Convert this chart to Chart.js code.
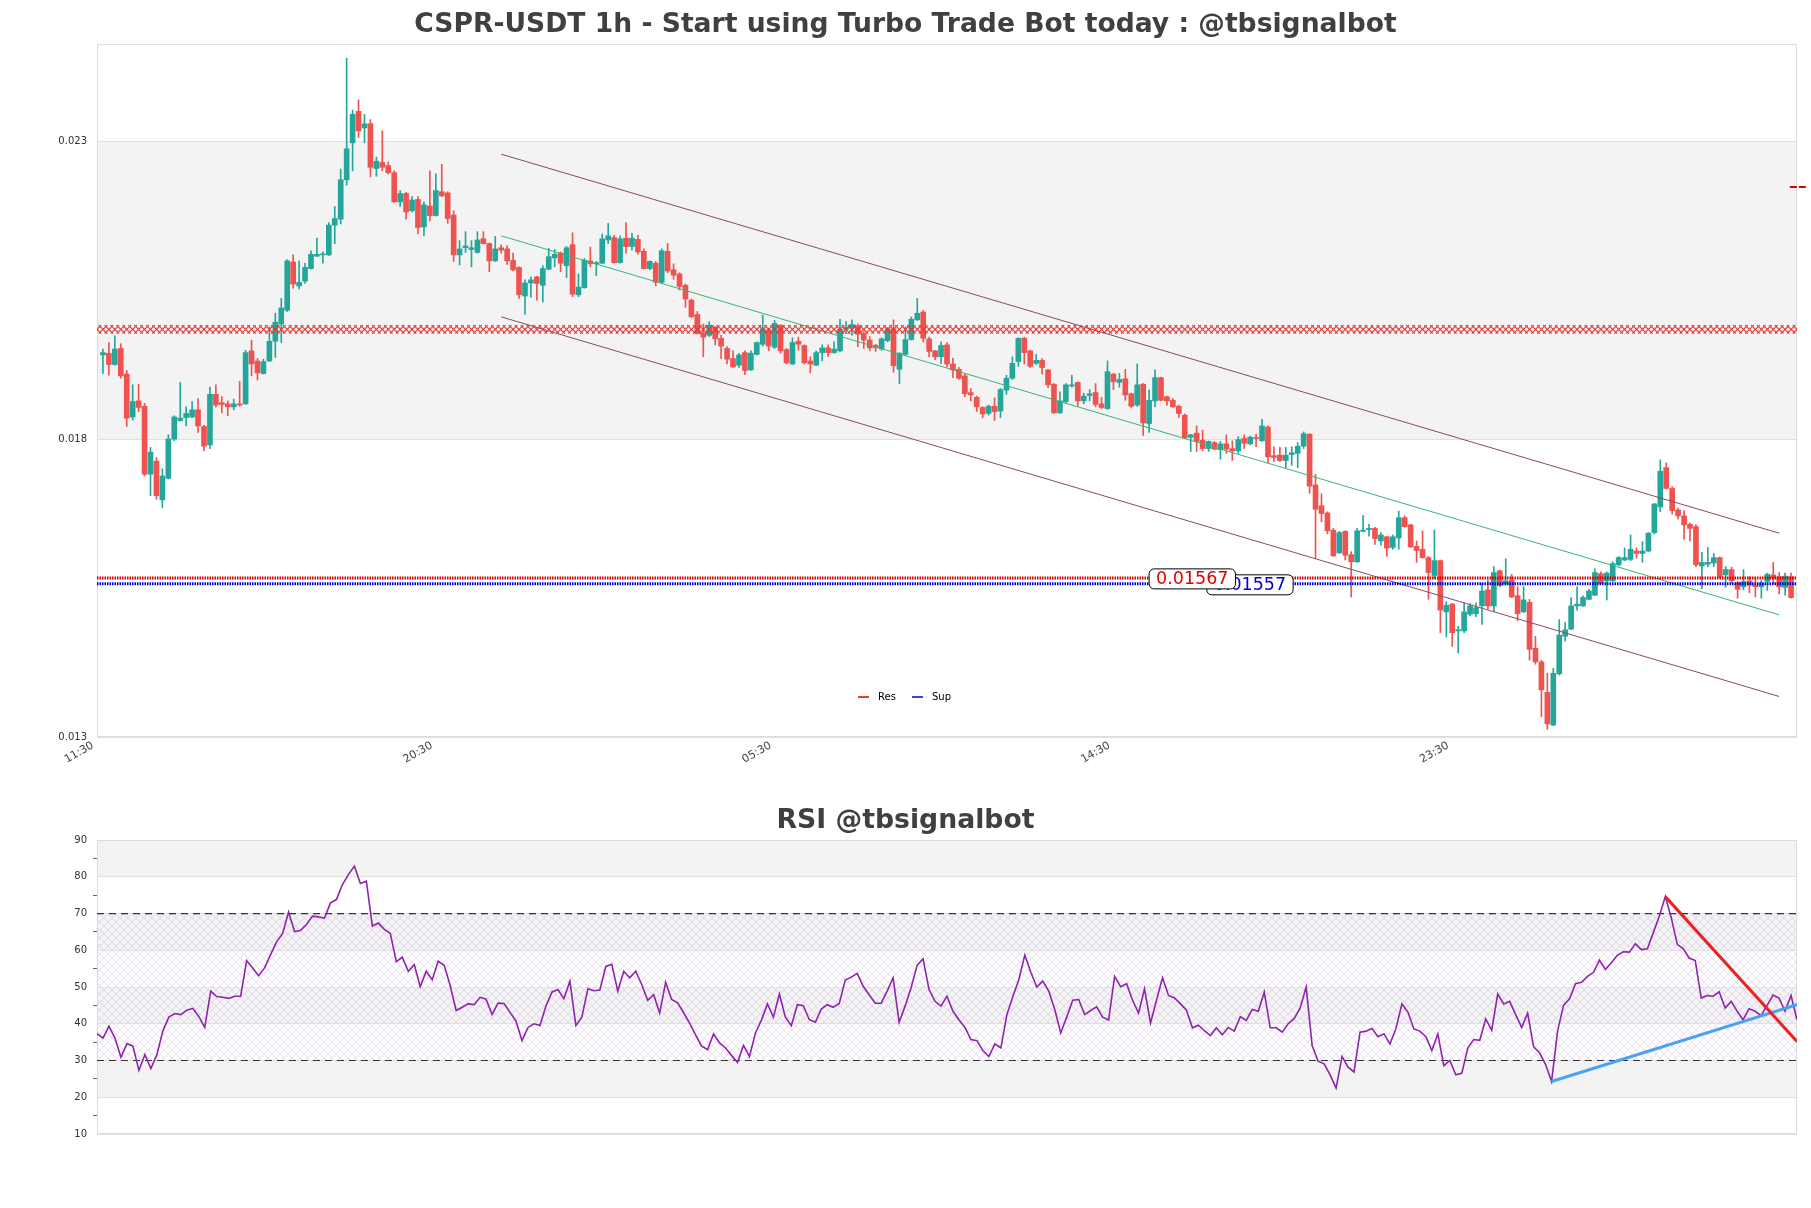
<!DOCTYPE html>
<html lang="en">
<head>
<meta charset="UTF-8">
<title>CSPR-USDT 1h</title>
<script src="https://cdn.jsdelivr.net/npm/chart.js@4.4.1/dist/chart.umd.min.js"></script>
<style>
    html, body { margin: 0; padding: 0; background: #fff; }
    #wrap { position: relative; width: 1811px; height: 1208px; }
    #priceChart { position: absolute; left: 0; top: 0; }
    #rsiChart { position: absolute; left: 0; top: 790px; }
</style>
</head>
<body>
<div id="wrap">
    <canvas id="priceChart" width="1811" height="790"></canvas>
    <canvas id="rsiChart" width="1811" height="418"></canvas>
</div>
<script>
// ---- candles (1..285) ----
const openP = [
0.01941,0.01944,0.01925,0.01952,0.01909,0.01837,0.01864,0.01855,0.01741,0.01763,
0.01698,0.01734,0.01800,0.01831,0.01836,0.01837,0.01849,0.01821,0.01790,0.01875,
0.01861,0.01859,0.01854,0.01859,0.01859,0.01948,0.01931,0.01910,0.01931,0.01964,
0.01993,0.02016,0.02097,0.02057,0.02065,0.02086,0.02107,0.02109,0.02109,0.02159,
0.02169,0.02235,0.02297,0.02350,0.02322,0.02329,0.02254,0.02264,0.02259,0.02247,
0.02198,0.02212,0.02183,0.02202,0.02156,0.02191,0.02175,0.02215,0.02213,0.02176,
0.02109,0.02121,0.02118,0.02113,0.02136,0.02128,0.02099,0.02121,0.02119,0.02100,
0.02088,0.02040,0.02062,0.02072,0.02058,0.02085,0.02104,0.02112,0.02091,0.02126,
0.02042,0.02054,0.02099,0.02094,0.02095,0.02134,0.02138,0.02096,0.02137,0.02123,
0.02135,0.02115,0.02086,0.02095,0.02063,0.02115,0.02084,0.02077,0.02058,0.02033,
0.02009,0.01978,0.01974,0.01988,0.01969,0.01952,0.01935,0.01924,0.01945,0.01916,
0.01942,0.01959,0.01983,0.01954,0.01991,0.01950,0.01926,0.01964,0.01957,0.01931,
0.01924,0.01945,0.01953,0.01945,0.01948,0.01984,0.01986,0.01990,0.01977,0.01966,
0.01957,0.01951,0.01965,0.01985,0.01917,0.01942,0.01967,0.02000,0.02013,0.01968,
0.01948,0.01938,0.01958,0.01926,0.01917,0.01906,0.01878,0.01870,0.01853,0.01843,
0.01855,0.01847,0.01882,0.01902,0.01930,0.01969,0.01948,0.01927,0.01932,0.01916,
0.01892,0.01844,0.01863,0.01889,0.01895,0.01864,0.01873,0.01878,0.01859,0.01851,
0.01909,0.01895,0.01901,0.01876,0.01857,0.01892,0.01826,0.01864,0.01903,0.01871,
0.01865,0.01855,0.01840,0.01803,0.01810,0.01798,0.01784,0.01794,0.01782,0.01792,
0.01784,0.01780,0.01801,0.01792,0.01802,0.01797,0.01820,0.01772,0.01773,0.01764,
0.01774,0.01776,0.01788,0.01808,0.01723,0.01688,0.01676,0.01647,0.01609,0.01645,
0.01606,0.01594,0.01645,0.01648,0.01650,0.01629,0.01636,0.01618,0.01634,0.01668,
0.01656,0.01620,0.01615,0.01601,0.01571,0.01596,0.01510,0.01523,0.01478,0.01478,
0.01506,0.01507,0.01520,0.01547,0.01520,0.01579,0.01557,0.01563,0.01537,0.01510,
0.01526,0.01449,0.01426,0.01375,0.01320,0.01406,0.01469,0.01481,0.01520,0.01520,
0.01531,0.01538,0.01574,0.01562,0.01562,0.01589,0.01597,0.01598,0.01612,0.01608,
0.01612,0.01643,0.01686,0.01752,0.01717,0.01681,0.01671,0.01657,0.01653,0.01587,
0.01590,0.01592,0.01601,0.01572,0.01581,0.01559,0.01552,0.01562,0.01555,0.01552,
0.01561,0.01572,0.01569,0.01551,0.01569
];
const highP = [
0.01951,0.01962,0.01973,0.01960,0.01915,0.01891,0.01892,0.01860,0.01786,0.01769,
0.01750,0.01807,0.01839,0.01895,0.01854,0.01863,0.01868,0.01823,0.01887,0.01891,
0.01871,0.01864,0.01867,0.01897,0.01949,0.01966,0.01935,0.01934,0.01988,0.02011,
0.02036,0.02101,0.02109,0.02099,0.02095,0.02116,0.02137,0.02114,0.02163,0.02190,
0.02253,0.02439,0.02352,0.02369,0.02345,0.02336,0.02273,0.02317,0.02265,0.02250,
0.02217,0.02214,0.02207,0.02207,0.02198,0.02250,0.02245,0.02261,0.02215,0.02183,
0.02133,0.02148,0.02133,0.02148,0.02148,0.02129,0.02140,0.02126,0.02124,0.02112,
0.02089,0.02067,0.02072,0.02073,0.02091,0.02120,0.02118,0.02114,0.02123,0.02146,
0.02077,0.02103,0.02122,0.02098,0.02144,0.02162,0.02142,0.02141,0.02163,0.02145,
0.02142,0.02119,0.02099,0.02098,0.02119,0.02128,0.02094,0.02079,0.02060,0.02035,
0.02014,0.01993,0.01997,0.01989,0.01974,0.01955,0.01948,0.01944,0.01948,0.01948,
0.01963,0.02008,0.01986,0.01999,0.01992,0.01952,0.01970,0.01971,0.01958,0.01938,
0.01948,0.01958,0.01958,0.01963,0.02001,0.01997,0.02000,0.01993,0.01980,0.01972,
0.01959,0.01970,0.01987,0.02000,0.01945,0.01988,0.02005,0.02036,0.02016,0.01971,
0.01949,0.01963,0.01962,0.01936,0.01920,0.01909,0.01885,0.01872,0.01854,0.01857,
0.01869,0.01885,0.01907,0.01938,0.01970,0.01971,0.01949,0.01942,0.01935,0.01917,
0.01893,0.01879,0.01893,0.01907,0.01896,0.01877,0.01883,0.01893,0.01870,0.01931,
0.01910,0.01910,0.01917,0.01877,0.01926,0.01893,0.01882,0.01916,0.01904,0.01872,
0.01868,0.01857,0.01842,0.01808,0.01822,0.01815,0.01797,0.01796,0.01796,0.01807,
0.01797,0.01804,0.01807,0.01805,0.01808,0.01833,0.01822,0.01787,0.01786,0.01786,
0.01787,0.01794,0.01812,0.01809,0.01741,0.01708,0.01678,0.01650,0.01645,0.01646,
0.01611,0.01650,0.01672,0.01657,0.01652,0.01643,0.01637,0.01639,0.01679,0.01671,
0.01657,0.01629,0.01646,0.01603,0.01647,0.01597,0.01527,0.01524,0.01486,0.01525,
0.01524,0.01525,0.01558,0.01563,0.01586,0.01580,0.01599,0.01573,0.01552,0.01552,
0.01531,0.01469,0.01429,0.01407,0.01415,0.01497,0.01492,0.01534,0.01552,0.01537,
0.01548,0.01582,0.01577,0.01577,0.01594,0.01603,0.01617,0.01639,0.01617,0.01628,
0.01643,0.01692,0.01765,0.01760,0.01720,0.01684,0.01680,0.01659,0.01656,0.01610,
0.01618,0.01608,0.01602,0.01586,0.01585,0.01561,0.01581,0.01569,0.01568,0.01563,
0.01575,0.01593,0.01576,0.01575,0.01575
];
const lowP = [
0.01910,0.01907,0.01924,0.01902,0.01821,0.01832,0.01846,0.01738,0.01705,0.01699,
0.01685,0.01733,0.01797,0.01830,0.01822,0.01836,0.01811,0.01780,0.01784,0.01854,
0.01844,0.01839,0.01849,0.01855,0.01858,0.01906,0.01899,0.01909,0.01930,0.01937,
0.01962,0.02014,0.02053,0.02052,0.02061,0.02085,0.02106,0.02095,0.02108,0.02128,
0.02161,0.02226,0.02250,0.02306,0.02297,0.02240,0.02241,0.02250,0.02245,0.02197,
0.02190,0.02169,0.02181,0.02144,0.02141,0.02166,0.02174,0.02207,0.02162,0.02098,
0.02092,0.02113,0.02089,0.02112,0.02127,0.02081,0.02098,0.02112,0.02093,0.02082,
0.02036,0.02009,0.02038,0.02033,0.02030,0.02084,0.02089,0.02081,0.02071,0.02039,
0.02039,0.02053,0.02089,0.02074,0.02094,0.02128,0.02095,0.02095,0.02112,0.02117,
0.02110,0.02085,0.02084,0.02057,0.02061,0.02079,0.02068,0.02050,0.02021,0.02004,
0.01976,0.01938,0.01972,0.01958,0.01935,0.01926,0.01920,0.01920,0.01908,0.01915,
0.01941,0.01956,0.01948,0.01952,0.01944,0.01926,0.01925,0.01949,0.01926,0.01911,
0.01923,0.01931,0.01938,0.01944,0.01946,0.01977,0.01974,0.01955,0.01952,0.01948,
0.01947,0.01949,0.01963,0.01912,0.01893,0.01941,0.01966,0.01999,0.01963,0.01938,
0.01933,0.01927,0.01921,0.01903,0.01900,0.01871,0.01864,0.01846,0.01836,0.01840,
0.01831,0.01836,0.01875,0.01900,0.01922,0.01926,0.01920,0.01925,0.01909,0.01886,
0.01843,0.01843,0.01860,0.01887,0.01855,0.01859,0.01864,0.01854,0.01851,0.01850,
0.01883,0.01887,0.01865,0.01853,0.01855,0.01806,0.01811,0.01854,0.01864,0.01857,
0.01853,0.01836,0.01801,0.01779,0.01779,0.01780,0.01779,0.01782,0.01766,0.01776,
0.01764,0.01776,0.01784,0.01790,0.01787,0.01796,0.01760,0.01762,0.01762,0.01752,
0.01756,0.01752,0.01784,0.01709,0.01600,0.01661,0.01641,0.01603,0.01608,0.01597,
0.01535,0.01593,0.01644,0.01637,0.01623,0.01622,0.01603,0.01615,0.01615,0.01652,
0.01618,0.01593,0.01600,0.01531,0.01566,0.01475,0.01468,0.01452,0.01441,0.01475,
0.01503,0.01502,0.01489,0.01515,0.01510,0.01552,0.01555,0.01534,0.01495,0.01509,
0.01429,0.01422,0.01334,0.01313,0.01319,0.01404,0.01461,0.01480,0.01513,0.01519,
0.01530,0.01537,0.01557,0.01530,0.01561,0.01587,0.01596,0.01596,0.01600,0.01593,
0.01611,0.01641,0.01678,0.01716,0.01674,0.01666,0.01632,0.01629,0.01586,0.01549,
0.01586,0.01586,0.01567,0.01551,0.01558,0.01533,0.01547,0.01542,0.01535,0.01533,
0.01546,0.01557,0.01540,0.01538,0.01533
];
const closeP = [
0.01945,0.01925,0.01951,0.01906,0.01835,0.01863,0.01853,0.01741,0.01778,0.01705,
0.01738,0.01800,0.01837,0.01835,0.01843,0.01849,0.01822,0.01788,0.01875,0.01857,
0.01858,0.01854,0.01859,0.01857,0.01945,0.01926,0.01911,0.01930,0.01964,0.01996,
0.02020,0.02099,0.02060,0.02063,0.02088,0.02110,0.02110,0.02110,0.02159,0.02170,
0.02235,0.02287,0.02345,0.02317,0.02329,0.02256,0.02266,0.02256,0.02247,0.02198,
0.02212,0.02181,0.02201,0.02155,0.02193,0.02175,0.02217,0.02208,0.02170,0.02109,
0.02119,0.02124,0.02121,0.02134,0.02128,0.02099,0.02119,0.02117,0.02099,0.02084,
0.02042,0.02062,0.02067,0.02061,0.02086,0.02106,0.02110,0.02095,0.02121,0.02043,
0.02055,0.02100,0.02094,0.02096,0.02136,0.02141,0.02096,0.02136,0.02123,0.02137,
0.02114,0.02086,0.02098,0.02063,0.02116,0.02082,0.02075,0.02056,0.02035,0.02005,
0.01977,0.01971,0.01991,0.01968,0.01956,0.01934,0.01921,0.01941,0.01915,0.01944,
0.01962,0.01985,0.01956,0.01994,0.01948,0.01928,0.01962,0.01959,0.01928,0.01926,
0.01945,0.01953,0.01945,0.01951,0.01984,0.01987,0.01992,0.01976,0.01966,0.01953,
0.01953,0.01968,0.01985,0.01923,0.01944,0.01967,0.02001,0.02011,0.01969,0.01947,
0.01938,0.01957,0.01926,0.01916,0.01902,0.01876,0.01874,0.01854,0.01842,0.01855,
0.01846,0.01883,0.01902,0.01927,0.01969,0.01945,0.01922,0.01932,0.01920,0.01891,
0.01844,0.01864,0.01891,0.01891,0.01864,0.01872,0.01876,0.01858,0.01853,0.01913,
0.01896,0.01900,0.01874,0.01855,0.01891,0.01827,0.01865,0.01903,0.01865,0.01864,
0.01854,0.01843,0.01802,0.01807,0.01796,0.01784,0.01796,0.01783,0.01792,0.01783,
0.01780,0.01799,0.01793,0.01803,0.01801,0.01822,0.01770,0.01769,0.01764,0.01773,
0.01777,0.01788,0.01809,0.01721,0.01682,0.01675,0.01646,0.01604,0.01643,0.01605,
0.01594,0.01646,0.01647,0.01650,0.01633,0.01639,0.01617,0.01636,0.01668,0.01653,
0.01619,0.01613,0.01601,0.01576,0.01596,0.01513,0.01521,0.01475,0.01480,0.01510,
0.01520,0.01517,0.01545,0.01520,0.01576,0.01554,0.01562,0.01535,0.01507,0.01530,
0.01447,0.01426,0.01379,0.01322,0.01407,0.01471,0.01480,0.01520,0.01523,0.01534,
0.01545,0.01576,0.01558,0.01575,0.01591,0.01601,0.01601,0.01615,0.01608,0.01612,
0.01642,0.01691,0.01746,0.01717,0.01680,0.01671,0.01656,0.01650,0.01589,0.01593,
0.01593,0.01601,0.01569,0.01581,0.01562,0.01548,0.01561,0.01555,0.01552,0.01558,
0.01573,0.01567,0.01552,0.01570,0.01534
];

// ---- axis ticks ----
const xTickPos = [0, 57, 114, 171, 228];
const xTickLabels = ['11:30', '20:30', '05:30', '14:30', '23:30'];
const priceTicks = [0.013, 0.018, 0.023];
const priceBands = [[0.018, 0.023]];

// ---- levels and channel ----
const resLevel = 0.01567;
const supLevel = 0.01557;
const zoneLevel = 0.01984;
const pendingLevel = 0.02223;
const channelX = [68, 283];
const channelUpper = [0.02278, 0.01642];
const channelMid = [0.02141, 0.01505];
const channelLower = [0.02005, 0.01368];

// ---- RSI ----
const rsiValues = [
37.3,36.1,39.3,36.1,30.9,34.6,33.9,27.3,31.6,27.8,
31.6,38.0,41.8,42.8,42.5,43.7,44.2,42.0,39.0,48.9,
47.4,47.2,46.9,47.5,47.5,57.2,55.2,53.1,55.2,58.8,
62.3,64.5,70.4,65.1,65.4,67.0,69.3,69.1,68.7,72.9,
73.8,77.9,80.6,82.9,78.2,78.8,66.6,67.4,65.7,64.6,
56.9,58.1,54.3,56.1,50.1,54.3,52.0,57.0,55.9,50.4,
43.6,44.5,45.4,45.2,47.2,46.7,42.5,45.6,45.5,43.1,
40.7,35.4,39.0,40.0,39.5,44.8,48.6,49.3,46.8,51.6,
39.5,41.8,49.5,49.0,49.2,55.6,56.2,48.9,54.3,52.5,
54.3,50.7,46.4,47.9,42.9,51.3,46.6,
45.7,43.0,40.2,37.0,33.9,33.0,37.2,34.8,33.4,31.4,
29.5,34.1,31.1,37.5,41.0,45.4,41.8,48.1,41.8,39.5,
45.2,44.9,41.1,40.4,44.0,45.2,44.5,45.5,51.9,52.7,
53.7,50.2,47.9,45.6,45.6,48.9,52.5,40.4,44.8,49.8,
55.9,57.7,49.3,46.1,44.8,47.5,43.4,41.1,39.0,35.7,
35.4,32.7,31.1,34.5,33.4,42.5,47.4,52.0,58.7,54.0,
50.0,51.6,48.9,43.9,37.5,41.8,46.4,46.6,42.5,43.6,
44.6,41.8,41.0,52.9,50.1,50.9,46.4,42.9,49.5,40.2,
46.4,52.5,47.7,47.0,45.4,43.7,38.9,39.6,38.1,36.8,
38.9,37.0,39.0,38.0,
41.9,40.9,43.9,43.4,48.6,38.9,38.9,37.7,40.0,41.4,
44.3,50.0,34.1,29.8,29.1,26.1,22.5,31.1,28.2,26.9,
37.7,38.0,38.7,36.5,37.3,34.5,38.7,45.4,43.2,38.6,
38.0,36.5,32.7,37.2,28.6,30.0,26.1,26.5,33.4,35.7,
35.5,41.3,38.2,48.1,45.4,46.1,42.5,39.0,42.9,33.7,
32.1,28.9,24.3,38.0,45.0,46.8,50.9,51.3,52.9,54.0,
57.3,54.8,56.6,58.7,59.6,59.5,61.8,60.2,60.4,64.8,
69.3,74.6,68.8,61.6,60.4,57.9,57.2,47.0,47.7,47.5,
48.7,44.3,46.1,43.4,41.1,44.1,43.4,42.2,45.0,47.8,
47.0,43.4,47.7,41.1
];
const rsiLevels = [70, 30];
const rsiBands = [[80, 90], [60, 70], [40, 50], [20, 30]];
const rsiHatch = [30, 70];
const rsiBearX = [262, 284];
const rsiBearY = [74.6, 35.2];
const rsiBullX = [243, 284];
const rsiBullY = [24.3, 45.2];

const upColor = '#26a69a';
const downColor = '#ef5350';

Chart.defaults.font.family = "'DejaVu Sans', sans-serif";
Chart.defaults.animation = false;

const candleColor = ctx => closeP[ctx.dataIndex] >= openP[ctx.dataIndex] ? upColor : downColor;
const lastX = openP.length + 1;
const zoneX = Array.from({length: lastX + 1}, (_, i) => i);

function hatchPattern(ctx) {
    const tile = document.createElement('canvas');
    tile.width = 8; tile.height = 8;
    const g = tile.getContext('2d');
    g.strokeStyle = 'rgba(190,155,215,0.45)';
    g.lineWidth = 0.7;
    g.beginPath();
    g.moveTo(0, 0); g.lineTo(8, 8);
    g.moveTo(8, 0); g.lineTo(0, 8);
    g.stroke();
    return ctx.createPattern(tile, 'repeat');
}

// background bands, hatching and frame
function panelPlugin(bands, hatch) {
    return {
        id: 'panel',
        beforeDraw(chart) {
            const {ctx, chartArea: a} = chart;
            const y = chart.scales.y;
            ctx.save();
            ctx.fillStyle = '#fff';
            ctx.fillRect(0, 0, chart.width, chart.height);
            ctx.fillStyle = '#f3f3f3';
            bands.forEach(([lo, hi]) => {
                const t = y.getPixelForValue(hi), b = y.getPixelForValue(lo);
                ctx.fillRect(a.left, t, a.right - a.left, b - t);
            });
            if (hatch) {
                const t = y.getPixelForValue(hatch[1]), b = y.getPixelForValue(hatch[0]);
                ctx.fillStyle = hatchPattern(ctx);
                ctx.fillRect(a.left, t, a.right - a.left, b - t);
            }
            ctx.restore();
        },
        beforeDatasetsDraw(chart) {
            const {ctx, chartArea: a} = chart;
            ctx.save();
            ctx.strokeStyle = '#dcdcdc';
            ctx.lineWidth = 1;
            ctx.strokeRect(a.left + 0.5, a.top + 0.5, a.right - a.left - 1, a.bottom - a.top - 1);
            ctx.restore();
        }
    };
}

// price labels and legend
const annotatePlugin = {
    id: 'annotate',
    afterDatasetsDraw(chart) {
        const {ctx, chartArea: a} = chart;
        const x = chart.scales.x, y = chart.scales.y;
        const boxes = [
            {value: supLevel, at: 186.7, color: '#0000cc'},
            {value: resLevel, at: 177.0, color: '#e00000'}
        ];
        ctx.save();
        ctx.font = "17.5px 'DejaVu Sans'";
        ctx.textBaseline = 'middle';
        boxes.forEach(bx => {
            const text = bx.value.toFixed(5);
            const w = ctx.measureText(text).width + 14;
            const h = 20;
            const left = x.getPixelForValue(bx.at);
            const cy = y.getPixelForValue(bx.value) + 1;
            ctx.beginPath();
            ctx.roundRect(left, cy - h / 2, w, h, 5);
            ctx.fillStyle = '#fff';
            ctx.fill();
            ctx.strokeStyle = '#000';
            ctx.lineWidth = 1;
            ctx.stroke();
            ctx.fillStyle = bx.color;
            ctx.textAlign = 'left';
            ctx.fillText(text, left + 7, cy + 1);
        });
        // legend
        const items = [['Res', '#e00000'], ['Sup', '#0000d0']];
        ctx.font = "10px 'DejaVu Sans'";
        let lx = a.left + 761;
        const ly = a.bottom - 40;
        items.forEach(([name, color]) => {
            ctx.strokeStyle = color;
            ctx.lineWidth = 1.5;
            ctx.beginPath();
            ctx.moveTo(lx, ly); ctx.lineTo(lx + 11, ly);
            ctx.stroke();
            ctx.fillStyle = '#000';
            ctx.fillText(name, lx + 20, ly);
            lx += 54;
        });
        ctx.restore();
    }
};

const lineDs = (xs, ys, color, width, extra) => Object.assign({
    type: 'line',
    data: xs.map((x, i) => ({x, y: ys[i]})),
    borderColor: color,
    borderWidth: width,
    pointRadius: 0,
    tension: 0
}, extra || {});

new Chart(document.getElementById('priceChart'), {
    type: 'bar',
    data: {
        datasets: [
            lineDs([0, lastX], [resLevel, resLevel], '#dd0000', 3, {borderDash: [1.5, 1], order: 1}),
            lineDs([0, lastX], [supLevel, supLevel], '#0000cc', 3, {borderDash: [1.5, 1], order: 2}),
            {
                type: 'line',
                data: zoneX.map(x => ({x, y: zoneLevel})),
                showLine: false,
                pointStyle: 'crossRot',
                pointRadius: 6,
                pointBorderColor: '#e53935',
                pointBorderWidth: 1.2,
                pointBackgroundColor: 'rgba(0,0,0,0)',
                order: 3
            },
            lineDs(channelX, channelUpper, '#8c4a63', 1, {order: 4}),
            lineDs(channelX, channelMid, '#3cb371', 1, {order: 5}),
            lineDs(channelX, channelLower, '#8c4a63', 1, {order: 6}),
            lineDs([284.8, 287.8], [pendingLevel, pendingLevel], '#e00000', 2, {borderDash: [7, 2], clip: false, order: 3}),
            {
                label: 'body',
                data: openP.map((o, i) => ({x: i + 1, y: [o, closeP[i]]})),
                backgroundColor: candleColor,
                barThickness: 5,
                minBarLength: 1,
                grouped: false,
                order: 7
            },
            {
                label: 'wick',
                data: lowP.map((l, i) => ({x: i + 1, y: [l, highP[i]]})),
                backgroundColor: candleColor,
                barThickness: 1,
                grouped: false,
                order: 8
            }
        ]
    },
    options: {
        responsive: false,
        events: [],
        layout: {padding: {left: 14, right: 14, top: 0, bottom: 0}},
        plugins: {
            legend: {display: false},
            tooltip: {enabled: false},
            title: {
                display: true,
                text: 'CSPR-USDT 1h - Start using Turbo Trade Bot today : @tbsignalbot',
                color: '#404040',
                font: {size: 26.6, weight: 'bold'},
                padding: {top: 9, bottom: 3}
            }
        },
        scales: {
            x: {
                type: 'linear',
                min: 0,
                max: lastX,
                offset: false,
                grid: {display: false, drawTicks: false},
                border: {display: false},
                ticks: {
                    autoSkip: false,
                    minRotation: 30,
                    maxRotation: 30,
                    color: '#444',
                    font: {size: 11},
                    padding: 2,
                    labelOffset: -4,
                    callback: (v, i) => xTickLabels[i]
                },
                afterBuildTicks: s => { s.ticks = xTickPos.map(v => ({value: v})); },
                afterFit: s => { s.height = 53; }
            },
            y: {
                min: 0.013,
                max: 0.02463,
                grid: {color: '#e0e0e0', drawTicks: false},
                border: {display: false},
                ticks: {
                    color: '#333',
                    font: {size: 10},
                    padding: 10,
                    callback: v => String(v)
                },
                afterBuildTicks: s => { s.ticks = priceTicks.map(v => ({value: v})); },
                afterFit: s => { s.width = 83; }
            }
        }
    },
    plugins: [panelPlugin(priceBands, null), annotatePlugin]
});

const rsiLast = rsiValues.length - 1;
new Chart(document.getElementById('rsiChart'), {
    type: 'line',
    data: {
        datasets: [
            lineDs(rsiBearX, rsiBearY, '#e82323', 3, {order: 1}),
            lineDs(rsiBullX, rsiBullY, '#4aa3f2', 3, {order: 2}),
            lineDs(rsiValues.map((_, i) => i), rsiValues, '#8e24aa', 1.6, {order: 3}),
            lineDs([0, rsiLast], [rsiLevels[0], rsiLevels[0]], '#333', 1.2, {borderDash: [7, 5], order: 4}),
            lineDs([0, rsiLast], [rsiLevels[1], rsiLevels[1]], '#333', 1.2, {borderDash: [7, 5], order: 5})
        ]
    },
    options: {
        responsive: false,
        events: [],
        layout: {padding: {left: 14, right: 14, top: 0, bottom: 74}},
        plugins: {
            legend: {display: false},
            tooltip: {enabled: false},
            title: {
                display: true,
                text: 'RSI @tbsignalbot',
                color: '#404040',
                font: {size: 26.7, weight: 'bold'},
                padding: {top: 15.5, bottom: 2.5}
            }
        },
        scales: {
            x: {type: 'linear', min: 0, max: rsiLast, display: false},
            y: {
                min: 10,
                max: 90,
                grid: {
                    color: c => c.tick && c.tick.value % 10 === 0 ? '#e0e0e0' : 'rgba(0,0,0,0)',
                    tickColor: c => c.tick && c.tick.value % 10 === 0 ? 'rgba(0,0,0,0)' : '#666',
                    tickLength: 4
                },
                border: {display: false},
                ticks: {
                    stepSize: 5,
                    autoSkip: false,
                    color: '#333',
                    font: {size: 10},
                    padding: 6,
                    callback: v => v % 10 === 0 ? String(v) : ''
                },
                afterFit: s => { s.width = 83; }
            }
        }
    },
    plugins: [panelPlugin(rsiBands, rsiHatch)]
});
</script>
</body>
</html>
